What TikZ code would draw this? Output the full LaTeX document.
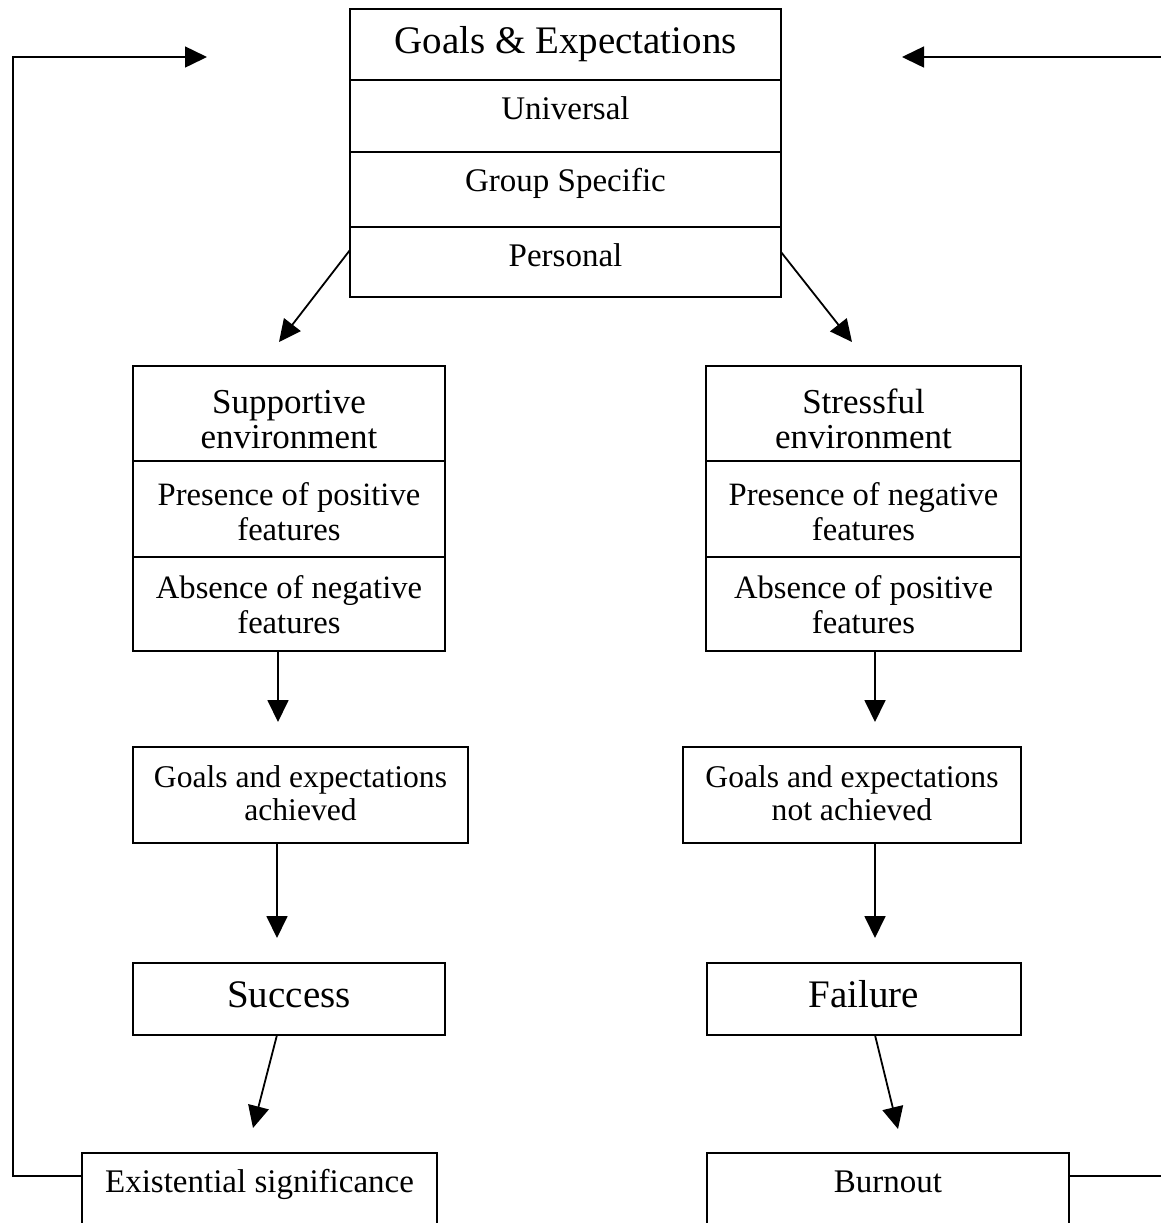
\documentclass[tikz,border=0pt]{standalone}
\usepackage{fontspec}
\setmainfont{Liberation Serif}
\usetikzlibrary{arrows.meta,positioning,calc}

\newcommand{\bigfont}{\fontsize{19.5}{22}\selectfont}
\newcommand{\midfont}{\fontsize{17.5}{17.5}\selectfont}
\newcommand{\rowfont}{\fontsize{16.5}{16.5}\selectfont}
\newcommand{\envfont}{\fontsize{16.3}{17.5}\selectfont}
\newcommand{\smallfont}{\fontsize{15.8}{16.5}\selectfont}

\begin{document}
\begin{tikzpicture}[x=0.5pt,y=-0.5pt]
\tikzset{hd/.style 2 args={text height=#1, text depth=#2}}
\tikzstyle{cell} = [rectangle, draw, line width=0.9pt, inner sep=0pt, outer sep=0pt, align=center]
\tikzstyle{line} = [-{Triangle[length=11pt,width=10.5pt]}, line width=0.9pt, draw]
\tikzstyle{back} = [line, line width=0.75pt]

    \clip (0,0) rectangle (1161,1223);

    % goals and expectations
    \node[cell, font=\bigfont, minimum width=215.5pt, hd={22pt}{13.5pt}, anchor=north] (goals) at (565.5,9) {Goals \& Expectations};
    \node[cell, font=\rowfont, minimum width=215.5pt, hd={19.5pt}{16.5pt}, below=0pt of goals] (universal) {Universal};
    \node[cell, font=\rowfont, minimum width=215.5pt, hd={19.5pt}{18pt}, below=0pt of universal] (group) {Group Specific};
    \node[cell, font=\rowfont, minimum width=215.5pt, hd={19.5pt}{15.5pt}, below=0pt of group] (personal) {Personal};

    % left column
    \node[cell, font=\midfont, minimum width=156pt, hd={41pt}{6.5pt}, anchor=north] (suppH) at (289,366) {Supportive\\environment};
    \node[cell, font=\envfont, minimum width=156pt, hd={39.5pt}{8.5pt}, below=0pt of suppH] (presL) {Presence of positive\\features};
    \node[cell, font=\envfont, minimum width=156pt, hd={38pt}{9pt}, below=0pt of presL] (absL) {Absence of negative\\features};
    \node[cell, font=\smallfont, minimum width=167.5pt, hd={36.5pt}{11.5pt}, anchor=north] (achL) at (300.5,747) {Goals and expectations\\achieved};
    \node[cell, font=\bigfont, minimum width=156pt, hd={22pt}{14pt}, anchor=north] (succ) at (289,963) {Success};
    \node[cell, font=\rowfont, minimum width=177.5pt, hd={19.5pt}{22pt}, anchor=north] (exist) at (259.5,1153) {Existential significance};

    % right column
    \node[cell, font=\midfont, minimum width=157.5pt, hd={41pt}{6.5pt}, anchor=north] (stressH) at (863.5,366) {Stressful\\environment};
    \node[cell, font=\envfont, minimum width=157.5pt, hd={39.5pt}{8.5pt}, below=0pt of stressH] (presR) {Presence of negative\\features};
    \node[cell, font=\envfont, minimum width=157.5pt, hd={38pt}{9pt}, below=0pt of presR] (absR) {Absence of positive\\features};
    \node[cell, font=\smallfont, minimum width=169pt, hd={36.5pt}{11.5pt}, anchor=north] (achR) at (852,747) {Goals and expectations\\not achieved};
    \node[cell, font=\bigfont, minimum width=157pt, hd={22pt}{14pt}, anchor=north] (fail) at (864,963) {Failure};
    \node[cell, font=\rowfont, minimum width=181pt, hd={19.5pt}{22pt}, anchor=north] (burn) at (888,1153) {Burnout};

    % free ends
    \coordinate (tipL) at ($(suppH.north)+(-10,-24)$);
    \coordinate (tipR) at ($(stressH.north)+(-11.5,-24)$);
    \coordinate (dL1) at ([xshift=-5.5pt]absL.south);
    \coordinate (dR1) at ([xshift=5.75pt]absR.south);
    \coordinate (dL2) at ([xshift=-11.75pt]achL.south);
    \coordinate (dR2) at ([xshift=11.5pt]achR.south);
    \coordinate (fbL) at ($(exist.north west)+(0,23)$);
    \coordinate (fbR) at ($(burn.north east)+(0,23)$);
    \coordinate (cornerL) at (13,57);
    \coordinate (cornerR) at (1180,57);
    \coordinate (tipTL) at (207,57);
    \coordinate (tipTR) at (902,57);

    \path [line] ([yshift=6pt]personal.west) -- (tipL);
    \path [line] ([yshift=5pt]personal.east) -- (tipR);
    \path [line, shorten >=12.5pt] (dL1) -- (dL1 |- achL.north);
    \path [line, shorten >=12.5pt] (dR1) -- (dR1 |- achR.north);
    \path [line, shorten >=12.5pt] (dL2) -- (dL2 |- succ.north);
    \path [line, shorten >=12.5pt] (dR2) -- (dR2 |- fail.north);
    \path [line] ([xshift=-6pt]succ.south) -- ($(exist.north)+(-6.5,-25)$);
    \path [line] ([xshift=5.5pt]fail.south) -- ($(burn.north)+(10,-24)$);
    \path [back] (fbL) -| (cornerL) -- (tipTL);
    \path [back] (fbR) -| (cornerR) -- (tipTR);
\end{tikzpicture}
\end{document}
